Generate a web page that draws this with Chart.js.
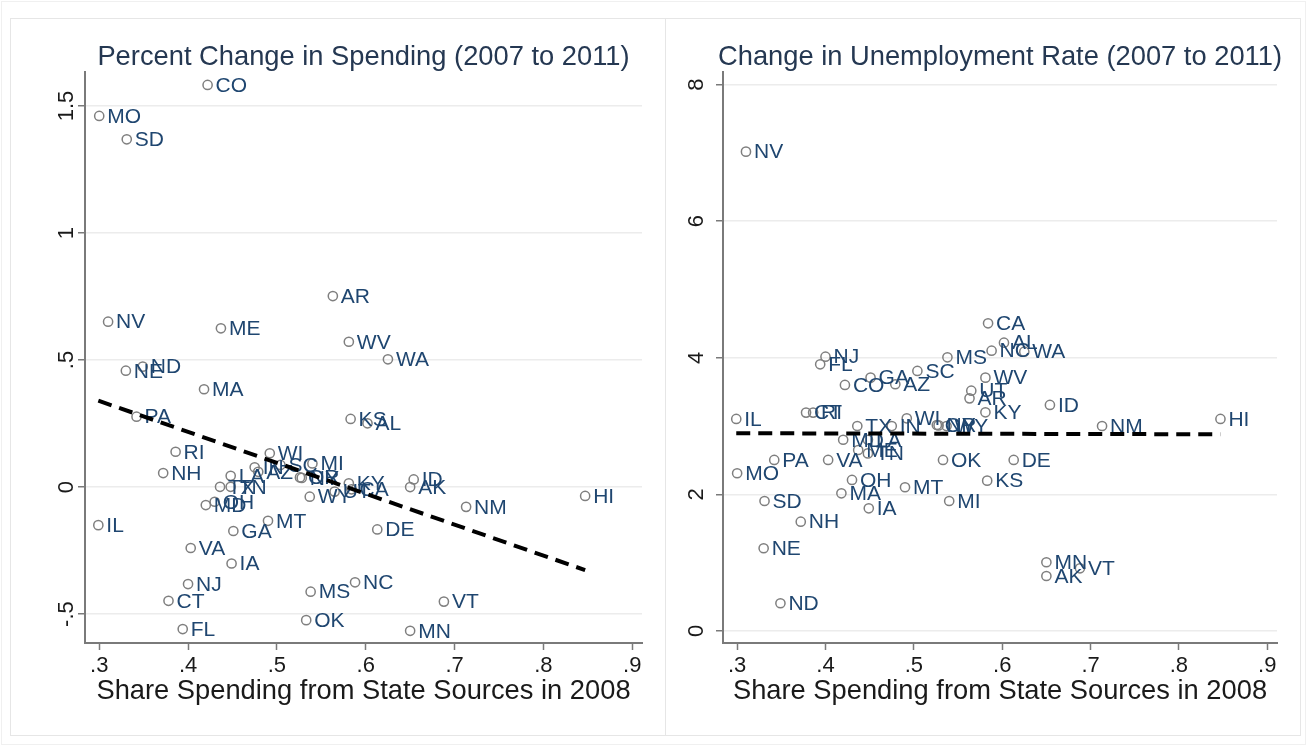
<!DOCTYPE html>
<html>
<head>
<meta charset="utf-8">
<script src="https://cdn.jsdelivr.net/npm/chart.js@4.4.0/dist/chart.umd.min.js"></script>
<style>
  body { margin: 0; background: #fff; width: 1307px; height: 746px; overflow: hidden; position: relative; }
  .box { position: absolute; box-sizing: border-box; border: 1px solid #e6e6e6; }
  .wrap { position: absolute; top: 18px; }
  #outer { left: 1px; top: 1px; width: 1305px; height: 744px; border-color: #f0f0f0; }
  #frameL { left: 10px; top: 18px; width: 656px; height: 718px; }
  #frameR { left: 665px; top: 18px; width: 636px; height: 718px; }
  #wrapL { left: 10px; }
  #wrapR { left: 665px; }
</style>
</head>
<body>
<div class="box" id="outer"></div>
<div class="box" id="frameL"></div>
<div class="box" id="frameR"></div>
<div class="wrap" id="wrapL"><canvas id="spend" width="655" height="717"></canvas></div>
<div class="wrap" id="wrapR"><canvas id="unemp" width="635" height="717"></canvas></div>
<script>
// state-level values: share of spending from state sources (2008),
// percent change in spending and change in unemployment rate (2007 to 2011)
const states = ['AL','AK','AZ','AR','CA','CO','CT','DE','FL','GA','HI','ID','IL','IN','IA','KS','KY','LA','ME','MD',
  'MA','MI','MN','MS','MO','MT','NE','NV','NH','NJ','NM','NY','NC','ND','OH','OK','OR','PA','RI','SC',
  'SD','TN','TX','UT','VT','VA','WA','WV','WI','WY'];
const share = [0.602,0.650,0.479,0.563,0.584,0.422,0.378,0.613,0.394,0.451,0.847,0.654,0.299,0.475,0.449,0.583,0.581,0.448,0.437,0.420,
  0.418,0.540,0.650,0.538,0.300,0.490,0.330,0.310,0.372,0.400,0.713,0.528,0.588,0.349,0.430,0.533,0.526,0.342,0.386,0.504,
  0.331,0.448,0.436,0.565,0.688,0.403,0.625,0.581,0.492,0.537];
const spendChange = [0.251,0.000,0.060,0.752,-0.009,1.583,-0.448,-0.167,-0.559,-0.173,-0.035,0.030,-0.150,0.078,-0.301,0.268,0.015,0.044,0.625,-0.071,
  0.385,0.093,-0.566,-0.412,1.461,-0.133,0.458,0.651,0.055,-0.382,-0.078,0.036,-0.375,0.474,-0.058,-0.524,0.038,0.277,0.139,0.087,
  1.369,0.001,0.001,-0.018,-0.451,-0.240,0.503,0.572,0.133,-0.038];
const unempChange = [4.221,0.805,3.612,3.406,4.505,3.602,3.197,2.504,3.904,3.709,3.104,3.309,3.104,3.000,1.796,2.201,3.202,2.800,2.650,2.800,
  2.016,1.903,1.006,4.007,2.309,2.104,1.211,7.018,1.600,4.016,3.001,3.010,4.104,0.406,2.211,2.504,3.016,2.504,3.197,3.807,
  1.903,2.600,3.001,3.518,0.918,2.504,4.089,3.709,3.114,3.000];

// fitted lines, end points
const spendFitX = [0.299, 0.847];
const spendFitY = [0.340, -0.327];
const unempFitX = [0.299, 0.847];
const unempFitY = [2.895, 2.880];

const shareTicks = [0.3, 0.4, 0.5, 0.6, 0.7, 0.8, 0.9];
const spendTicks = [-0.5, 0, 0.5, 1, 1.5];
const unempTicks = [0, 2, 4, 6, 8];

const FONT = '"Liberation Sans", Arial, sans-serif';
const LABEL_COLOR = '#1f4670';
const TITLE_COLOR = '#253852';
const AXIS_GRAY = '#7a7a7a';

function fmt(v) {
  if (v === 0) return '0';
  const s = String(Math.abs(v)).replace(/^0\./, '.');
  return (v < 0 ? '-' : '') + s;
}

const stataText = {
  id: 'stataText',
  afterDatasetDraw(chart, args) {
    if (args.index !== 1) return;
    const ctx = chart.ctx;
    ctx.save();
    ctx.font = '21px ' + FONT;
    ctx.fillStyle = LABEL_COLOR;
    ctx.textAlign = 'left';
    ctx.textBaseline = 'middle';
    args.meta.data.forEach((pt, i) => ctx.fillText(states[i], pt.x + 8, pt.y + 1));
    ctx.restore();
  },
  afterDraw(chart, args, opts) {
    const ctx = chart.ctx;
    const area = chart.chartArea;
    const xs = chart.scales.x, ys = chart.scales.y;
    const cx = (area.left + area.right) / 2;
    ctx.save();
    ctx.textAlign = 'center';
    ctx.textBaseline = 'middle';
    ctx.fillStyle = TITLE_COLOR;
    ctx.font = '27.3px ' + FONT;
    ctx.fillText(opts.title, cx, 39);
    ctx.fillStyle = '#1a1a1a';
    ctx.fillText(opts.xTitle, cx, 673);
    ctx.font = '22px ' + FONT;
    shareTicks.forEach(v => ctx.fillText(fmt(v), xs.getPixelForValue(v), 648));
    opts.yTicks.forEach(v => {
      ctx.save();
      ctx.translate(area.left - opts.yLabelGap, ys.getPixelForValue(v));
      ctx.rotate(-Math.PI / 2);
      ctx.fillText(fmt(v), 0, 0);
      ctx.restore();
    });
    ctx.restore();
  }
};

function makeChart(id, yVals, fitX, fitY, yMin, yMax, yTicks, yWidth, title, yLabelGap) {
  return new Chart(document.getElementById(id), {
    type: 'scatter',
    data: {
      datasets: [{
        data: fitX.map((x, i) => ({ x: x, y: fitY[i] })),
        showLine: true,
        borderColor: '#000',
        borderWidth: 4,
        borderDash: [14, 8],
        pointRadius: 0
      }, {
        data: share.map((x, i) => ({ x: x, y: yVals[i] })),
        pointStyle: 'circle',
        pointRadius: 4.6,
        pointBorderWidth: 1.5,
        pointBorderColor: '#7f7f7f',
        pointBackgroundColor: 'rgba(0,0,0,0)'
      }]
    },
    options: {
      responsive: false,
      animation: false,
      events: [],
      layout: { padding: { top: 54, right: 23, left: 0, bottom: 0 } },
      plugins: {
        legend: { display: false },
        tooltip: { enabled: false },
        stataText: { title: title, xTitle: 'Share Spending from State Sources in 2008', yTicks: yTicks, yLabelGap: yLabelGap }
      },
      scales: {
        x: {
          type: 'linear', min: 0.284, max: 0.911,
          afterBuildTicks: s => { s.ticks = shareTicks.map(v => ({ value: v })); },
          afterFit: s => { s.height = 92; },
          ticks: { display: false },
          grid: { drawOnChartArea: false, drawTicks: true, tickLength: 7, tickColor: AXIS_GRAY, tickWidth: 1.5 },
          border: { color: AXIS_GRAY, width: 2 }
        },
        y: {
          type: 'linear', min: yMin, max: yMax,
          afterBuildTicks: s => { s.ticks = yTicks.map(v => ({ value: v })); },
          afterFit: s => { s.width = yWidth; },
          ticks: { display: false },
          grid: { color: '#ececec', lineWidth: 1.5, drawTicks: true, tickLength: 7, tickColor: AXIS_GRAY, tickWidth: 1.5 },
          border: { color: AXIS_GRAY, width: 2 }
        }
      }
    },
    plugins: [stataText]
  });
}

makeChart('spend', spendChange, spendFitX, spendFitY, -0.614, 1.634, spendTicks, 75,
  'Percent Change in Spending (2007 to 2011)', 18);
makeChart('unemp', unempChange, unempFitX, unempFitY, -0.176, 8.184, unempTicks, 58,
  'Change in Unemployment Rate (2007 to 2011)', 26);
</script>
</body>
</html>
